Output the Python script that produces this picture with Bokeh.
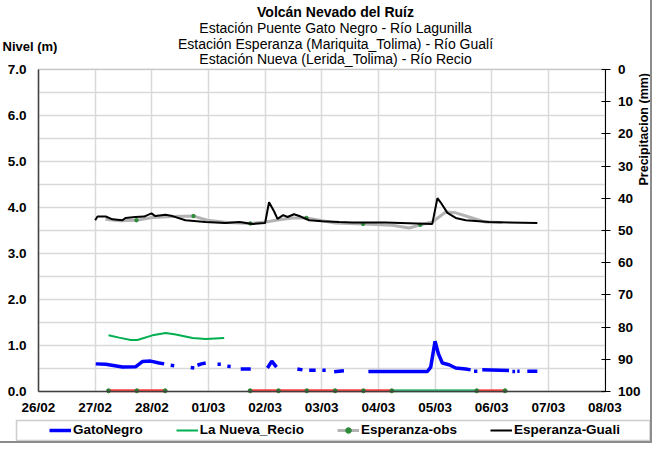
import numpy as np
import pandas as pd
from bokeh.plotting import figure
from bokeh.models import (Range1d, LinearAxis, FixedTicker, NumeralTickFormatter,
                          DatetimeTickFormatter, Legend, LegendItem, Label, BoxAnnotation)
from bokeh.embed import file_html
from bokeh.resources import INLINE

# ---------------- data ----------------
day_ticks = ["02-26", "02-27", "02-28", "03-01", "03-02", "03-03",
             "03-04", "03-05", "03-06", "03-07", "03-08"]
nivel_ticks = [0, 1, 2, 3, 4, 5, 6, 7]
nivel_minor = [0.5, 1.5, 2.5, 3.5, 4.5, 5.5, 6.5]
precip_ticks = [0, 10, 20, 30, 40, 50, 60, 70, 80, 90, 100]

guali_t = ["02-27 00:00", "02-27 01:00", "02-27 04:30", "02-27 07:20", "02-27 11:35",
           "02-27 12:50", "02-27 17:05", "02-27 20:45", "02-27 23:50", "02-28 01:30",
           "02-28 05:45", "02-28 08:45", "02-28 14:15", "02-28 22:45", "03-01 07:10",
           "03-01 13:10", "03-01 18:40", "03-02 00:00", "03-02 01:40", "03-02 03:50",
           "03-02 05:15", "03-02 07:40", "03-02 09:30", "03-02 12:15", "03-02 15:05",
           "03-02 18:40", "03-03 00:15", "03-03 07:20", "03-03 13:00", "03-04 03:00",
           "03-04 22:50", "03-05 01:00", "03-05 02:20", "03-05 05:15", "03-05 08:45",
           "03-05 13:00", "03-05 22:50", "03-06 19:20"]
guali_v = [3.72, 3.80, 3.80, 3.74, 3.72, 3.77, 3.79, 3.80, 3.87, 3.81,
           3.84, 3.81, 3.72, 3.68, 3.66, 3.68, 3.64, 3.66, 4.11, 3.91,
           3.75, 3.83, 3.79, 3.85, 3.80, 3.72, 3.70, 3.68, 3.67, 3.67,
           3.64, 4.20, 4.11, 3.88, 3.77, 3.72, 3.68, 3.66]

obs_t = ["02-27 04:20", "02-27 10:10", "02-27 17:30", "02-28 00:15", "02-28 08:45",
         "02-28 17:40", "02-28 23:35", "03-01 08:00", "03-01 17:45", "03-02 00:15",
         "03-02 05:55", "03-02 11:35", "03-02 17:30", "03-03 00:15", "03-03 05:45",
         "03-03 17:30", "03-04 05:55", "03-04 13:00", "03-04 17:45", "03-04 22:50",
         "03-05 04:30", "03-05 08:45", "03-05 14:25", "03-05 21:25", "03-06 04:30"]
obs_v = [3.74, 3.71, 3.72, 3.78, 3.80, 3.81, 3.72, 3.67, 3.65, 3.68,
         3.73, 3.77, 3.77, 3.71, 3.66, 3.64, 3.61, 3.55, 3.62, 3.68,
         3.90, 3.88, 3.79, 3.68, 3.67]
obs_mark_t = ["02-27 17:30", "02-28 17:40", "03-01 17:45", "03-02 17:30",
              "03-03 17:30", "03-04 17:45"]
obs_mark_v = [3.72, 3.81, 3.65, 3.77, 3.64, 3.62]

nueva_t = ["02-27 05:40", "02-27 10:10", "02-27 15:05", "02-27 17:55", "02-28 00:15",
           "02-28 05:55", "02-28 10:10", "02-28 17:15", "02-28 22:50", "03-01 06:40"]
nueva_v = [1.22, 1.17, 1.12, 1.12, 1.22, 1.27, 1.24, 1.16, 1.14, 1.16]

# None = gap in the record
gato_t = ["02-27 00:15", "02-27 04:30", "02-27 11:35", "02-27 17:15", "02-27 20:00",
          "02-27 23:30", "02-28 03:05", "02-28 05:15", None,
          "02-28 08:00", "02-28 09:30", None,
          "02-28 16:30", "02-28 18:00", None,
          "02-28 19:20", "02-28 21:00", "02-28 22:50", None,
          "03-01 03:50", "03-01 05:15", None,
          "03-01 08:00", "03-01 09:25", None,
          "03-01 13:40", "03-01 17:55", None,
          "03-02 01:00", "03-02 02:50", "03-02 04:50", None,
          "03-02 13:40", "03-02 15:50", None,
          "03-02 18:40", "03-02 21:25", None,
          "03-03 00:15", "03-03 01:40", None,
          "03-03 05:15", "03-03 09:25", None,
          "03-03 19:45", "03-04 20:45", "03-04 22:10", "03-05 00:00", "03-05 01:25",
          "03-05 03:05", "03-05 05:55", "03-05 08:45", "03-05 13:00", "03-05 15:05", None,
          "03-05 16:30", "03-05 17:55", None,
          "03-05 20:00", "03-06 07:20", None,
          "03-06 08:45", "03-06 09:55", None,
          "03-06 10:50", "03-06 11:50", None,
          "03-06 15:05", "03-06 19:20"]
gato_v = [0.60, 0.59, 0.53, 0.54, 0.65, 0.66, 0.62, 0.60, None,
          0.57, 0.56, None,
          0.52, 0.51, None,
          0.57, 0.60, 0.62, None,
          0.59, 0.59, None,
          0.55, 0.545, None,
          0.49, 0.49, None,
          0.51, 0.66, 0.53, None,
          0.49, 0.47, None,
          0.46, 0.46, None,
          0.46, 0.46, None,
          0.43, 0.45, None,
          0.435, 0.435, 0.53, 1.09, 0.82,
          0.62, 0.58, 0.51, 0.49, 0.47, None,
          0.44, 0.44, None,
          0.47, 0.455, None,
          0.435, 0.435, None,
          0.44, 0.44, None,
          0.44, 0.44]

status_red1_t = ["02-27 05:40", "02-27 17:40", "02-28 05:40"]
status_red2_t = ["03-01 17:40", "03-02 05:40", "03-02 17:40", "03-03 05:40",
                 "03-03 17:40", "03-04 05:40"]
status_green_t = ["03-04 05:40", "03-05 17:40"]
status_red3_t = ["03-05 17:40", "03-06 05:40"]
status_level = 0.015

titles = ["Volcán Nevado del Ruíz",
          "Estación Puente Gato Negro - Río Lagunilla",
          "Estación Esperanza (Mariquita_Tolima) - Río Gualí",
          "Estación Nueva (Lerida_Tolima) - Río Recio"]


def ms(lst):
    out = []
    for s in lst:
        if s is None:
            out.append(np.nan)
        else:
            out.append(pd.Timestamp("2023-" + s).timestamp() * 1000.0)
    return np.array(out, dtype=float)


def vals(lst):
    return np.array([np.nan if v is None else v for v in lst], dtype=float)


FONT = "Liberation Sans"
DAY = 86400000.0

# ---------------- layout geometry (canvas = plotting frame) ----------------
W, H = 650, 441
PX_DAY = 56.65          # pixels per day
PX_UNIT = 46.04         # pixels per metre
PX_MM = 3.223           # pixels per mm
AX_LEFT = 38            # left axis, px from canvas left
AX_BOTTOM = 50          # value 0 / 100 mm, px from canvas bottom
AX_TOP = 69             # value 7 / 0 mm, px from canvas top

t_first = ms(day_ticks)[0]
t_last = ms(day_ticks)[-1]
x_start = t_first - AX_LEFT / PX_DAY * DAY
x_end = t_first + (W - AX_LEFT) / PX_DAY * DAY
y_start = -AX_BOTTOM / PX_UNIT
y_end = (H - AX_BOTTOM) / PX_UNIT
pr_start = 100 + AX_BOTTOM / PX_MM
pr_end = -AX_TOP / PX_MM

p = figure(width=W, height=H, x_axis_type="datetime", output_backend="svg",
           toolbar_location=None, title=None,
           x_range=Range1d(x_start, x_end), y_range=Range1d(y_start, y_end),
           min_border_left=0, min_border_right=0, min_border_top=0, min_border_bottom=0)
p.styles = {"outline": "2px solid #8c8c8c"}
p.background_fill_color = "white"
p.border_fill_color = "white"
p.outline_line_color = None

# x axis (drawn at level 0)
p.xaxis.fixed_location = 0
p.xaxis.bounds = (t_first, t_last)
p.xaxis.ticker = FixedTicker(ticks=list(ms(day_ticks)))
p.xaxis.formatter = DatetimeTickFormatter(days="%d/%m", hours="%d/%m", months="%d/%m",
                                          minutes="%d/%m", years="%d/%m")
p.xaxis.major_label_text_font = FONT
p.xaxis.major_label_text_font_style = "bold"
p.xaxis.major_label_text_font_size = "13.5px"
p.xaxis.major_label_text_color = "black"
p.xaxis.major_tick_out = 0
p.xaxis.major_tick_in = 0
p.xaxis.minor_tick_out = 0
p.xaxis.minor_tick_in = 0
p.xaxis.major_label_standoff = 8
p.xaxis.axis_line_color = "#404040"
p.xaxis.axis_line_width = 1.5

# left axis
p.yaxis.fixed_location = t_first
p.yaxis.bounds = (0, 7)
p.yaxis.ticker = FixedTicker(ticks=nivel_ticks, minor_ticks=nivel_minor)
p.yaxis.formatter = NumeralTickFormatter(format="0.0")
p.yaxis.major_label_text_font = FONT
p.yaxis.major_label_text_font_style = "bold"
p.yaxis.major_label_text_font_size = "13.5px"
p.yaxis.major_label_text_color = "black"
p.yaxis.major_tick_out = 0
p.yaxis.major_tick_in = 0
p.yaxis.minor_tick_out = 0
p.yaxis.minor_tick_in = 0
p.yaxis.major_label_standoff = 12
p.yaxis.axis_line_color = "#404040"
p.yaxis.axis_line_width = 1.5

# right axis (precipitation, inverted)
p.extra_y_ranges = {"precip": Range1d(pr_start, pr_end)}
rax = LinearAxis(y_range_name="precip", ticker=FixedTicker(ticks=precip_ticks))
rax.fixed_location = t_last
rax.bounds = (0, 100)
rax.major_label_text_font = FONT
rax.major_label_text_font_style = "bold"
rax.major_label_text_font_size = "13.5px"
rax.major_label_text_color = "black"
rax.major_tick_in = 4
rax.major_tick_out = 5
rax.minor_tick_in = 0
rax.minor_tick_out = 0
rax.major_label_standoff = 8
rax.axis_line_color = "black"
rax.major_tick_line_color = "black"
p.add_layout(rax, "right")

# grids limited to the plot area
GRID = "#d9d9d9"
xg, yg = p.xgrid[0], p.ygrid[0]
xg.bounds = (t_first, t_last)
yg.bounds = (0, 7)
if "cross_bounds" in xg.properties():
    xg.cross_bounds = (0, 7)
    yg.cross_bounds = (t_first, t_last)
    xg.grid_line_color = GRID
    xg.grid_line_width = 1.5
    yg.grid_line_color = GRID
    yg.grid_line_width = 1.5
    yg.minor_grid_line_color = GRID
    yg.minor_grid_line_width = 1.5
else:
    xg.grid_line_color = None
    yg.grid_line_color = None
    dt = ms(day_ticks)
    p.segment(x0=dt, y0=0, x1=dt, y1=7, line_color=GRID, line_width=1.5)
    hv = np.array(sorted(nivel_ticks + nivel_minor), dtype=float)
    p.segment(x0=t_first, y0=hv, x1=t_last, y1=hv, line_color=GRID, line_width=1.5)

# plot-area border
p.add_layout(BoxAnnotation(left=t_first, right=t_last, bottom=0, top=7,
                           fill_alpha=0, line_color="#8c8c8c", line_width=1,
                           level="underlay"))

# series
r_gato = p.line(ms(gato_t), vals(gato_v), line_color="#0000ff", line_width=3.5)
r_nueva = p.line(ms(nueva_t), nueva_v, line_color="#00b050", line_width=2)
r_obs = p.line(ms(obs_t), obs_v, line_color="#b3b3b3", line_width=3)
r_obs_m = p.scatter(ms(obs_mark_t), obs_mark_v, size=3.5, color="#2e8b3a")
r_guali = p.line(ms(guali_t), guali_v, line_color="black", line_width=2)

for seg, col in ((status_red1_t, "#ff4040"), (status_red2_t, "#ff4040"),
                 (status_green_t, "#3cb878"), (status_red3_t, "#ff4040")):
    p.line(ms(seg), [status_level] * len(seg), line_color=col, line_width=3)
for seg in (status_red1_t, status_red2_t, status_red3_t):
    p.scatter(ms(seg), [status_level] * len(seg), size=4, color="#2e7d32")

# legend
legend = Legend(items=[
    LegendItem(label="GatoNegro", renderers=[r_gato]),
    LegendItem(label="La Nueva_Recio", renderers=[r_nueva]),
    LegendItem(label="Esperanza-obs", renderers=[r_obs, r_obs_m]),
    LegendItem(label="Esperanza-Guali", renderers=[r_guali]),
], orientation="horizontal", location=(46, 1))
legend.label_text_font = FONT
legend.label_text_font_style = "bold"
legend.label_text_font_size = "13.5px"
legend.label_text_color = "black"
legend.glyph_width = 22
legend.glyph_height = 14
legend.label_height = 14
legend.label_standoff = 2
legend.spacing = 33
legend.padding = 3
legend.margin = 0
legend.border_line_alpha = 0
legend.background_fill_alpha = 0
p.add_layout(legend, "center")
p.add_layout(BoxAnnotation(left=16, right=649.5, bottom=1, top=21,
                           left_units="screen", right_units="screen",
                           bottom_units="screen", top_units="screen",
                           fill_alpha=0, line_color="#595959", line_width=1.5))

# titles and axis names
title_y = [430, 414, 397.3, 382.3]
for i, (t, yy) in enumerate(zip(titles, title_y)):
    p.add_layout(Label(x=335, y=yy, x_units="screen", y_units="screen", text=t,
                       text_align="center", text_baseline="alphabetic",
                       text_font=FONT, text_font_size="14px",
                       text_font_style="bold" if i == 0 else "normal",
                       text_color="black"))

p.add_layout(Label(x=2, y=395, x_units="screen", y_units="screen", text="Nivel (m)",
                   text_align="left", text_baseline="alphabetic", text_font=FONT,
                   text_font_size="13px", text_font_style="bold", text_color="black"))
p.add_layout(Label(x=643, y=256, x_units="screen", y_units="screen",
                   text="Precipitacion (mm)", angle=np.pi / 2,
                   text_align="left", text_baseline="middle", text_font=FONT,
                   text_font_size="12.5px", text_font_style="bold", text_color="black"))

open("out.html", "w").write(file_html(p, INLINE))
